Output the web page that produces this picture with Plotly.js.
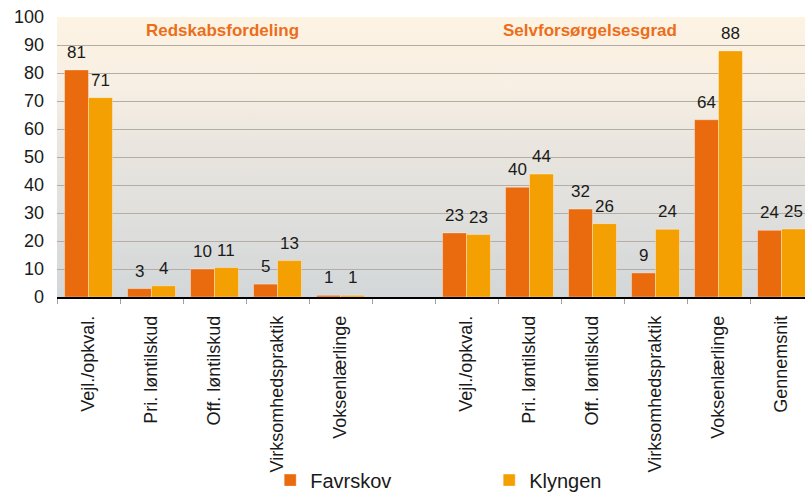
<!DOCTYPE html>
<html>
<head>
<meta charset="utf-8">
<script src="https://cdn.plot.ly/plotly-3.0.1.min.js"></script>
<style>
html,body{margin:0;padding:0;overflow:hidden;background:#fff;}
#chart{width:820px;height:493px;}
</style>
</head>
<body>
<div id="chart"></div>
<script>
// ---- data ----
const categories = ["Vejl./opkval.", "Pri. løntilskud", "Off. løntilskud", "Virksomhedspraktik", "Voksenlærlinge", "",
                    "Vejl./opkval.", "Pri. løntilskud", "Off. løntilskud", "Virksomhedspraktik", "Voksenlærlinge", "Gennemsnit"];
const favrskov = [81.1, 3.0, 10.0, 4.6, 0.6, null, 22.9, 39.2, 31.4, 8.6, 63.3, 23.8];
const klyngen  = [71.2, 4.0, 10.5, 13.0, 0.6, null, 22.3, 43.9, 26.2, 24.2, 87.9, 24.3];
const favrskovLabels = ["81", "3", "10", "5", "1", "", "23", "40", "32", "9", "64", "24"];
const klyngenLabels  = ["71", "4", "11", "13", "1", "", "23", "44", "26", "24", "88", "25"];
const sectionTitles = ["Redskabsfordeling", "Selvforsørgelsesgrad"];
const yTicks = [0, 10, 20, 30, 40, 50, 60, 70, 80, 90, 100];

// ---- chart ----
const idx = categories.map((c, i) => i);
const FONT = "Liberation Sans, Arial, sans-serif";
const colFav = "#ea6a0e", colKly = "#f5a002";
const barOff = 0.19;

const traces = [
  {type: "bar", name: "Favrskov", x: idx, y: favrskov, marker: {color: colFav, line: {color: "rgba(255,255,255,0.35)", width: 1}}, hoverinfo: "skip"},
  {type: "bar", name: "Klyngen", x: idx, y: klyngen, marker: {color: colKly, line: {color: "rgba(255,255,255,0.35)", width: 1}}, hoverinfo: "skip"}
];

const annotations = [];
idx.forEach(i => {
  if (favrskov[i] !== null) {
    annotations.push({x: i - barOff, y: favrskov[i], xref: "x", yref: "y", text: favrskovLabels[i], showarrow: false,
      yanchor: "bottom", yshift: 6, font: {family: FONT, size: 17, color: "#1a1a1a"}});
    annotations.push({x: i + barOff, y: klyngen[i], xref: "x", yref: "y", text: klyngenLabels[i], showarrow: false,
      yanchor: "bottom", yshift: 6, font: {family: FONT, size: 17, color: "#1a1a1a"}});
  }
});
annotations.push({x: 2.13, y: 95.3, xref: "x", yref: "y", text: "<b>" + sectionTitles[0] + "</b>", showarrow: false,
  font: {family: FONT, size: 17, color: "#ec6e1a"}});
annotations.push({x: 7.96, y: 95.3, xref: "x", yref: "y", text: "<b>" + sectionTitles[1] + "</b>", showarrow: false,
  font: {family: FONT, size: 17, color: "#ec6e1a"}});

const svg = '<svg xmlns="http://www.w3.org/2000/svg" width="100" height="100" preserveAspectRatio="none">' +
  '<defs><linearGradient id="g" x1="0" y1="0" x2="0" y2="1">' +
  '<stop offset="0" stop-color="#fdf3e3"/><stop offset="0.25" stop-color="#f7efe3"/>' +
  '<stop offset="0.45" stop-color="#eae6df"/><stop offset="1" stop-color="#d3d7d9"/>' +
  '</linearGradient></defs><rect width="100" height="100" fill="url(#g)"/></svg>';
const bgSrc = "data:image/svg+xml;charset=utf-8," + encodeURIComponent(svg);

const layout = {
  width: 820, height: 493,
  margin: {l: 57, r: 7, t: 17, b: 196, autoexpand: false},
  paper_bgcolor: "#ffffff",
  plot_bgcolor: "rgba(0,0,0,0)",
  barmode: "group", bargap: 0.24, bargroupgap: 0,
  font: {family: FONT, color: "#1a1a1a"},
  images: [{source: bgSrc, xref: "paper", yref: "paper", x: 0, y: 1, sizex: 1, sizey: 1,
    xanchor: "left", yanchor: "top", sizing: "stretch", layer: "below"}],
  xaxis: {
    range: [-0.5, 11.5], tickmode: "array", tickvals: idx, ticktext: categories,
    tickangle: -90, ticks: "", ticklabelstandoff: 10, automargin: false,
    tickfont: {family: FONT, size: 18, color: "#1a1a1a"},
    showline: true, linecolor: "#000", linewidth: 1.5, showgrid: false, zeroline: false,
    minor: {tick0: -0.5, dtick: 1, ticks: "outside", ticklen: 5, tickcolor: "#a0a0a0", tickwidth: 1, showgrid: false}
  },
  yaxis: {
    range: [0, 100], tickmode: "array", tickvals: yTicks, ticks: "", ticklabelstandoff: 12, automargin: false,
    tickfont: {family: FONT, size: 18, color: "#1a1a1a"},
    showgrid: true, gridcolor: "#b3ada5", gridwidth: 1, zeroline: false, showline: false
  },
  showlegend: true,
  legend: {orientation: "h", x: 0.282, xanchor: "left", y: -0.654, yanchor: "middle",
    font: {family: FONT, size: 20, color: "#1a1a1a"}, entrywidth: 174, bgcolor: "rgba(0,0,0,0)"},
  annotations: annotations
};

Plotly.newPlot("chart", traces, layout, {displayModeBar: false, staticPlot: true});
</script>
</body>
</html>
